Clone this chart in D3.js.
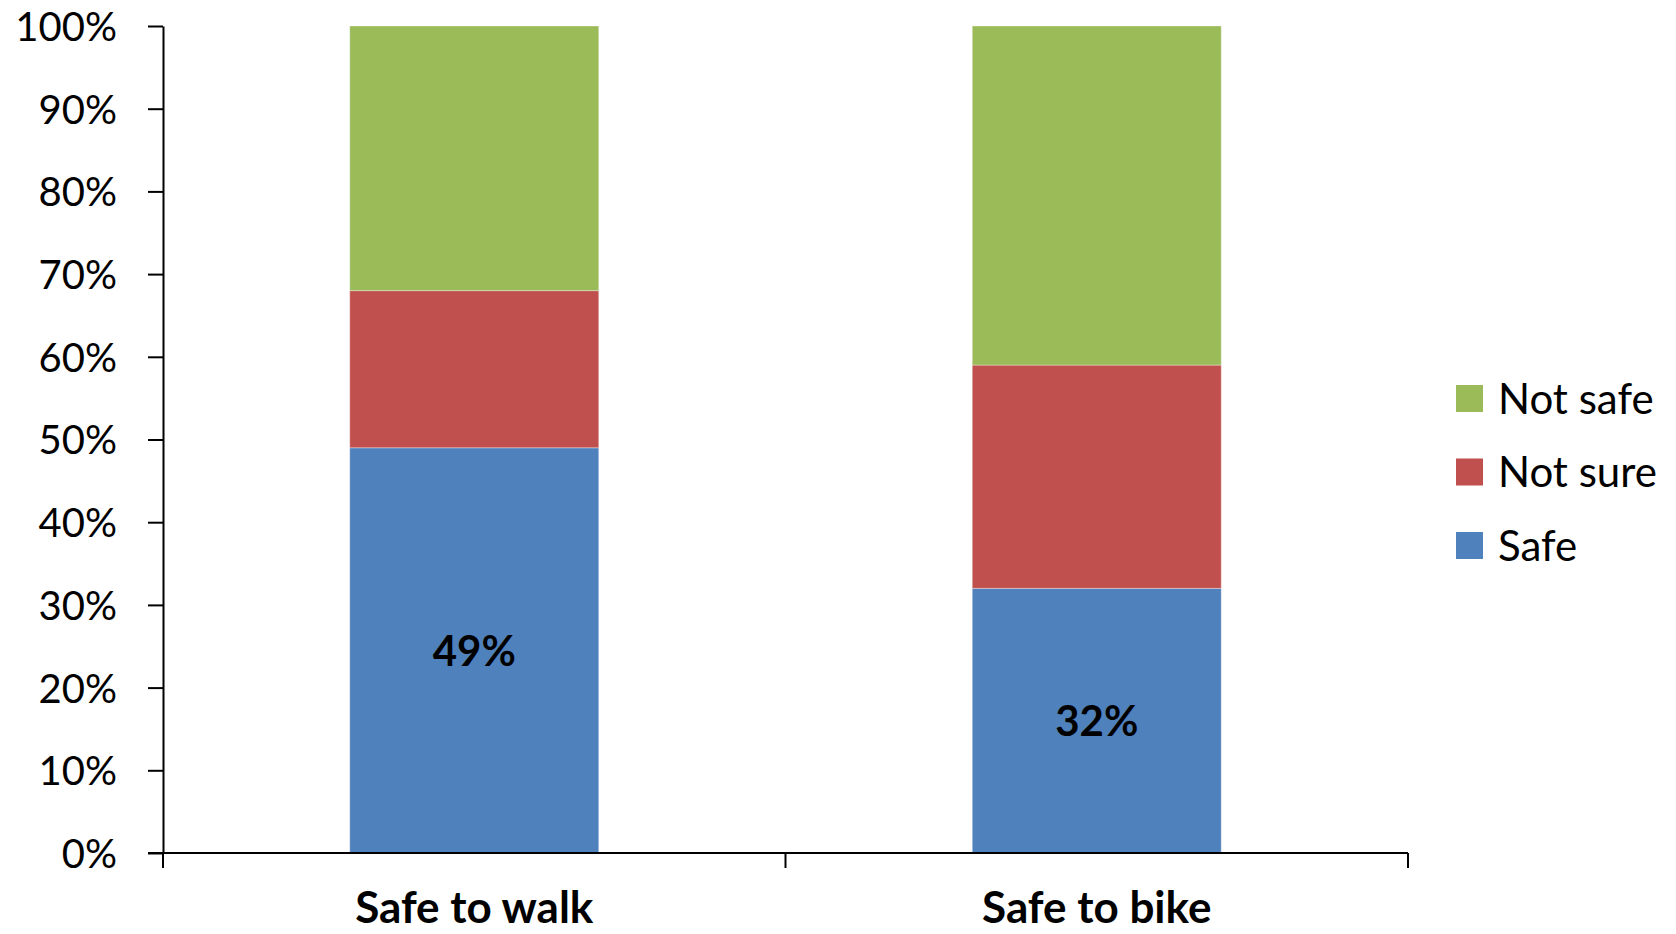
<!DOCTYPE html>
<html>

<head>
  <meta charset="UTF-8">
  <style>
    body { margin: 0; background: #fff; }
    svg { display: block; }
    text { font-family: Lato, "Noto Sans", sans-serif; fill: #000; }
  </style>
</head>

<body>
  <svg></svg>
  <script src="https://d3js.org/d3.v7.min.js"></script>

  <script>
    // data
    let categories = ["Safe to walk", "Safe to bike"];
    let series = ["Safe", "Not sure", "Not safe"];
    let safe = [49, 32];
    let notSure = [19, 27];
    let notSafe = [32, 41];
    let colors = ["#4F81BD", "#C0504D", "#9BBB59"];
    let yTicks = [0, 10, 20, 30, 40, 50, 60, 70, 80, 90, 100];

    let width = 1676, height = 934;
    let margin = { left: 163, right: 268, top: 26, bottom: 81 };

    let svg = d3.select("svg")
      .attr("width", width)
      .attr("height", height);

    let rows = categories.map((c, i) => ({ cat: c, "Safe": safe[i], "Not sure": notSure[i], "Not safe": notSafe[i] }));
    let stacked = d3.stack().keys(series)(rows);

    let x = d3.scaleBand()
      .domain(categories)
      .range([margin.left, width - margin.right])
      .paddingInner(0.6)
      .paddingOuter(0.3);

    let y = d3.scaleLinear()
      .domain([0, 100])
      .range([height - margin.bottom, margin.top]);

    let color = d3.scaleOrdinal().domain(series).range(colors);

    // bars
    svg.append("g")
      .selectAll("g")
      .data(stacked)
      .enter()
      .append("g")
      .attr("fill", d => color(d.key))
      .selectAll("rect")
      .data(d => d)
      .enter()
      .append("rect")
      .attr("x", d => x(d.data.cat))
      .attr("width", x.bandwidth())
      .attr("y", d => y(d[1]))
      .attr("height", d => y(d[0]) - y(d[1]))
      .attr("stroke", "rgba(255,255,255,0.35)")
      .attr("stroke-width", 1);

    // value labels on the Safe segment
    svg.append("g")
      .selectAll("text")
      .data(stacked[0])
      .enter()
      .append("text")
      .attr("x", d => x(d.data.cat) + x.bandwidth() / 2)
      .attr("y", d => (y(d[0]) + y(d[1])) / 2)
      .attr("dy", "0.36em")
      .attr("text-anchor", "middle")
      .style("font-size", "42px")
      .style("font-weight", "bold")
      .text(d => d.data.Safe + "%");

    // y axis
    let yAxis = d3.axisLeft(y)
      .tickValues(yTicks)
      .tickSize(15)
      .tickSizeOuter(0)
      .tickPadding(31)
      .tickFormat(d => d + "%");

    let gy = svg.append("g")
      .attr("transform", "translate(" + margin.left + ",0)")
      .call(yAxis);
    gy.select(".domain").attr("stroke", "#000").attr("stroke-width", 2);
    gy.selectAll(".tick line").attr("stroke", "#000").attr("stroke-width", 2);
    gy.selectAll(".tick text")
      .attr("dy", "0.36em")
      .style("font-size", "40px")
      .style("font-family", "Lato, sans-serif");

    // x axis: line, boundary ticks, category labels
    let x0 = margin.left, x1 = width - margin.right, yb = y(0);
    let gx = svg.append("g");
    gx.append("line")
      .attr("x1", x0 - 15).attr("x2", x1)
      .attr("y1", yb).attr("y2", yb)
      .attr("stroke", "#000").attr("stroke-width", 2);

    let bounds = d3.range(categories.length + 1).map(i => x0 + i * x.step());
    gx.selectAll(".xtick")
      .data(bounds)
      .enter()
      .append("line")
      .attr("class", "xtick")
      .attr("x1", d => d).attr("x2", d => d)
      .attr("y1", yb).attr("y2", yb + 15)
      .attr("stroke", "#000").attr("stroke-width", 2);

    gx.selectAll(".xlabel")
      .data(categories)
      .enter()
      .append("text")
      .attr("class", "xlabel")
      .attr("x", d => x(d) + x.bandwidth() / 2)
      .attr("y", 923)
      .attr("text-anchor", "middle")
      .style("font-size", "44px")
      .style("font-weight", "bold")
      .text(d => d);

    // legend
    let legendOrder = series.slice().reverse();
    let legend = svg.append("g")
      .attr("transform", "translate(1456,385)");

    let item = legend.selectAll("g")
      .data(legendOrder)
      .enter()
      .append("g")
      .attr("transform", (d, i) => "translate(0," + (i * 73.5) + ")");

    item.append("rect")
      .attr("width", 27)
      .attr("height", 27)
      .attr("fill", d => color(d));

    item.append("text")
      .attr("x", 42)
      .attr("y", 13.5)
      .attr("dy", "0.36em")
      .style("font-size", "42px")
      .text(d => d);
  </script>

</body>

</html>
